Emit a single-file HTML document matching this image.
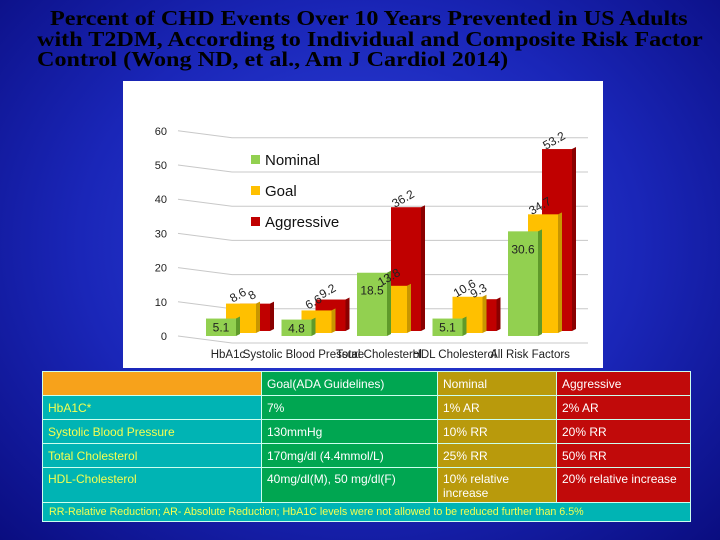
<!DOCTYPE html>
<html><head><meta charset="utf-8"><style>
body{margin:0;width:720px;height:540px;overflow:hidden;background:radial-gradient(ellipse at 50% 45%,#2f45e0 0%,#1a26b8 55%,#0a0d80 100%);font-family:"Liberation Sans",sans-serif;position:relative}
.title{position:absolute;left:0;top:8px;width:720px;font-family:"Liberation Serif",serif;font-weight:bold;font-size:21px;line-height:20.5px;color:#000}
.title div{white-space:nowrap;transform:scaleX(1.15);transform-origin:0 0}
table{position:absolute;left:42px;top:371px;width:649px;border-collapse:collapse;font-size:12px}
td{border:1px solid #cfe;padding:2px 5px;vertical-align:middle;color:#fff;line-height:14px}
.t{background:#00b4b4;color:#f4ff50}.g{background:#00a651}.o{background:#b99a0c}.r{background:#c10a0a}
.top{vertical-align:top;padding-top:4px}
</style></head><body>
<div class="title">
<div style="margin-left:50px">Percent of CHD Events Over 10 Years Prevented in US Adults</div>
<div style="margin-left:37px">with T2DM, According to Individual and Composite Risk Factor</div>
<div style="margin-left:37px">Control (Wong ND, et al., Am J Cardiol 2014)</div>
</div>
<svg id="chart" width="720" height="540" style="position:absolute;left:0;top:0">
<rect x="123" y="81" width="480" height="287" fill="#fff"/>
<g id="grid"></g><g id="bars"></g><g id="labels"></g>
</svg>
<table>
<tr style="height:24px"><td style="background:#f7a21b;width:208px"></td><td class="g" style="width:165px">Goal(ADA Guidelines)</td><td class="o" style="width:108px">Nominal</td><td class="r" style="white-space:nowrap">Aggressive</td></tr>
<tr style="height:24px"><td class="t">HbA1C*</td><td class="g">7%</td><td class="o">1% AR</td><td class="r">2% AR</td></tr>
<tr style="height:24px"><td class="t">Systolic Blood Pressure</td><td class="g">130mmHg</td><td class="o">10% RR</td><td class="r">20% RR</td></tr>
<tr style="height:24px"><td class="t">Total Cholesterol</td><td class="g">170mg/dl (4.4mmol/L)</td><td class="o">25% RR</td><td class="r">50% RR</td></tr>
<tr style="height:35px"><td class="t top">HDL-Cholesterol</td><td class="g top">40mg/dl(M), 50 mg/dl(F)</td><td class="o top">10% relative increase</td><td class="r top" style="white-space:nowrap">20% relative increase</td></tr>
<tr style="height:19px"><td class="t" colspan="4" style="font-size:10.7px;padding:2px 6px">RR-Relative Reduction; AR- Absolute Reduction; HbA1C levels were not allowed to be reduced further than 6.5%</td></tr>
</table>
<script>
const categories=["HbA1c","Systolic Blood Pressure","Total Cholesterol","HDL Cholesterol","All Risk Factors"];
const nominal=[5.1,4.8,18.5,5.1,30.6];
const goal=[8.6,6.6,13.8,10.6,34.7];
const aggressive=[8,9.2,36.2,9.3,53.2];
const yTicks=[0,10,20,30,40,50,60];
const NS="http://www.w3.org/2000/svg";
function y(v){return 336-v*3.42;}
function gx(i){return 206+i*75.5;}
function mk(t,a,p){const e=document.createElementNS(NS,t);for(const k in a)e.setAttribute(k,a[k]);p.appendChild(e);return e;}
const grid=document.getElementById('grid'),bars=document.getElementById('bars'),labels=document.getElementById('labels');
yTicks.forEach(t=>{const yy=y(t);
 const l=mk('polyline',{points:`178,${yy} 232,${yy+7} 588,${yy+7}`,fill:'none',stroke:'#c8c8c8','stroke-width':1},grid);
 
 const tx=mk('text',{x:167,y:yy+4,'text-anchor':'end','font-size':11,fill:'#222'},labels);tx.textContent=t;
 });
const series=[{d:aggressive,off:34,base:331,f:'#c00000',s:'#8a0000',n:'aggressive'},{d:goal,off:20,base:333,f:'#ffc000',s:'#c89600',n:'goal'},{d:nominal,off:0,base:336,f:'#92d050',s:'#5f9a2a',n:'nominal'}];
series.forEach(sr=>{sr.d.forEach((v,i)=>{const x=gx(i)+sr.off,top=sr.base-v*3.42;
 const g=mk('g',{},bars);
 mk('rect',{x:x,y:top,width:30,height:sr.base-top,fill:sr.f},g);
 mk('polygon',{points:`${x+30},${top} ${x+34},${top-2} ${x+34},${sr.base-2} ${x+30},${sr.base}`,fill:sr.s},g);
 let lx,ly,rot=-30;
 if(sr.n==='nominal'&&v>15){lx=x+15;ly=top+22;rot=0;}else if(sr.n==='nominal'){lx=x+15;ly=top+13;rot=0;}else{lx=x+14;ly=top-5;}
 const t=mk('text',{x:lx,y:ly,'text-anchor':'middle','font-size':12,fill:'#222',transform:`rotate(${rot} ${lx} ${ly})`},labels);t.textContent=v;
 });});
categories.forEach((c,i)=>{const t=mk('text',{x:gx(i)+22,y:358,'text-anchor':'middle','font-size':11.5,fill:'#222'},labels);t.textContent=c;
 });
[['Nominal','#92d050',160],['Goal','#ffc000',191],['Aggressive','#c00000',222]].forEach(L=>{
 const g=mk('g',{},labels);
 mk('rect',{x:251,y:L[2]-5,width:9,height:9,fill:L[1]},g);
 const t=mk('text',{x:265,y:L[2]+5,'font-size':15,fill:'#111'},g);t.textContent=L[0];});
</script>
</body></html>
